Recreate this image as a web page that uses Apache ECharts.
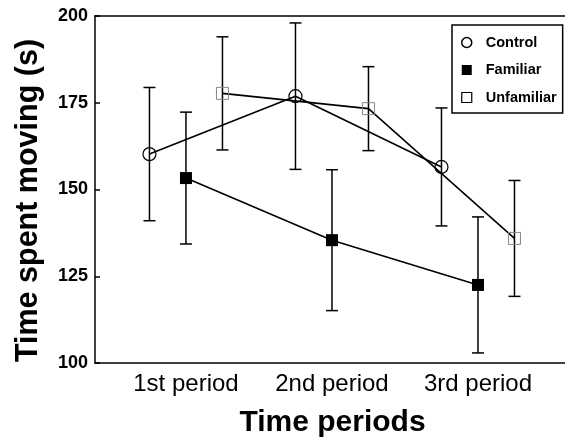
<!DOCTYPE html>
<html>
<head>
<meta charset="utf-8">
<script src="https://cdn.jsdelivr.net/npm/echarts@6/dist/echarts.min.js"></script>
<style>
html,body{margin:0;padding:0;background:#fff;}
#chart{width:565px;height:439px;}
</style>
</head>
<body>
<div id="chart"></div>
<script>
var periods = ['1st period', '2nd period', '3rd period'];
var seriesNames = ['Control', 'Familiar', 'Unfamiliar'];
var controlMean = [160.2, 176.9, 156.5];
var controlErr = [19.2, 21.1, 17.0];
var familiarMean = [153.3, 135.4, 122.5];
var familiarErr = [19.0, 20.3, 19.6];
var unfamiliarMean = [177.7, 173.3, 135.9];
var unfamiliarErr = [16.3, 12.1, 16.7];
var yTicks = [100, 125, 150, 175, 200];

var font = '"Liberation Sans", Arial, Helvetica, sans-serif';
// horizontal shift of each group around the period position
var shift = [-0.25, 0, 0.25];

function points(means, k){
	var out = [];
	for(var i=0;i<means.length;i++){
		out.push([i + 1 + shift[k], means[i]]);
	}
	return out;
}
function bars(means, errs, k){
	var out = [];
	for(var i=0;i<means.length;i++){
		out.push([i + 1 + shift[k], means[i] - errs[i], means[i] + errs[i]]);
	}
	return out;
}
function renderBar(params, api){
	var x = api.value(0);
	var lo = api.coord([x, api.value(1)]);
	var hi = api.coord([x, api.value(2)]);
	var w = 6;
	var st = {stroke: '#000', lineWidth: 1.5};
	return {
		type: 'group',
		children: [
			{type: 'line', shape: {x1: lo[0], y1: lo[1], x2: hi[0], y2: hi[1]}, style: st},
			{type: 'line', shape: {x1: lo[0]-w, y1: lo[1], x2: lo[0]+w, y2: lo[1]}, style: st},
			{type: 'line', shape: {x1: hi[0]-w, y1: hi[1], x2: hi[0]+w, y2: hi[1]}, style: st}
		]
	};
}

var allBars = bars(controlMean, controlErr, 0)
	.concat(bars(familiarMean, familiarErr, 1))
	.concat(bars(unfamiliarMean, unfamiliarErr, 2));

var myChart = echarts.init(document.getElementById('chart'));
var option = {
	animation: false,
	textStyle: {fontFamily: font, color: '#000'},
	grid: {left: 95, top: 16, right: 0, bottom: 76, outerBoundsMode: 'none'},
	legend: {
		orient: 'vertical',
		left: 452,
		top: 25,
		padding: [10, 6, 8, 9],
		itemGap: 12.5,
		itemWidth: 10,
		itemHeight: 10,
		borderColor: '#000',
		borderWidth: 1.5,
		textStyle: {fontFamily: font, fontSize: 14.5, fontWeight: 'bold', color: '#000', padding: [0, 0, 0, 9]},
		data: [
			{name: 'Control', icon: 'circle', itemStyle: {color: '#fff', borderColor: '#000', borderWidth: 1.5}},
			{name: 'Familiar', icon: 'rect', itemStyle: {color: '#000', borderWidth: 0}},
			{name: 'Unfamiliar', icon: 'rect', itemStyle: {color: '#fff', borderColor: '#000', borderWidth: 1.2}}
		]
	},
	xAxis: [{
		type: 'value',
		min: 0.377,
		max: 3.596,
		name: 'Time periods',
		nameLocation: 'middle',
		nameGap: 45,
		nameTextStyle: {fontFamily: font, fontSize: 30, fontWeight: 'bold', color: '#000', padding: [0, 0, 0, 5]},
		axisLine: {lineStyle: {color: '#000', width: 1.5}},
		axisTick: {show: false},
		splitLine: {show: false},
		axisLabel: {
			customValues: [1, 2, 3],
			formatter: function(v){ return periods[Math.round(v) - 1]; },
			fontFamily: font, fontSize: 24, color: '#000', margin: 9
		}
	}, {
		type: 'value',
		position: 'top',
		min: 0.377,
		max: 3.596,
		axisLine: {show: true, lineStyle: {color: '#000', width: 1.5}},
		axisTick: {show: false},
		axisLabel: {show: false},
		splitLine: {show: false}
	}],
	yAxis: {
		type: 'value',
		min: yTicks[0],
		max: yTicks[yTicks.length - 1],
		interval: 25,
		name: 'Time spent moving (s)',
		nameLocation: 'middle',
		nameGap: 51,
		nameTextStyle: {fontFamily: font, fontSize: 30.5, fontWeight: 'bold', color: '#000', padding: [0, 22, 0, 0]},
		axisLine: {show: true, lineStyle: {color: '#000', width: 1.5}},
		axisTick: {show: true, inside: true, length: 5, lineStyle: {color: '#000', width: 1.5}},
		splitLine: {show: false},
		axisLabel: {fontFamily: font, fontSize: 18, fontWeight: 'bold', color: '#000', margin: 7}
	},
	series: [
		{
			type: 'custom',
			name: 'errors',
			renderItem: renderBar,
			data: allBars,
			z: 1,
			silent: true
		},
		{
			name: 'Control',
			type: 'line',
			data: points(controlMean, 0),
			symbol: 'circle',
			symbolSize: 13,
			lineStyle: {color: '#000', width: 1.6},
			itemStyle: {color: 'rgba(0,0,0,0)', borderColor: '#000', borderWidth: 1.2},
			z: 3
		},
		{
			name: 'Familiar',
			type: 'line',
			data: points(familiarMean, 1),
			symbol: 'rect',
			symbolSize: 12,
			lineStyle: {color: '#000', width: 1.6},
			itemStyle: {color: '#000', borderWidth: 0},
			z: 3
		},
		{
			name: 'Unfamiliar',
			type: 'line',
			data: points(unfamiliarMean, 2),
			symbol: 'rect',
			symbolSize: 12,
			lineStyle: {color: '#000', width: 1.6},
			itemStyle: {color: 'rgba(0,0,0,0)', borderColor: '#888', borderWidth: 1},
			z: 3
		}
	]
};
myChart.setOption(option);
</script>
</body>
</html>
